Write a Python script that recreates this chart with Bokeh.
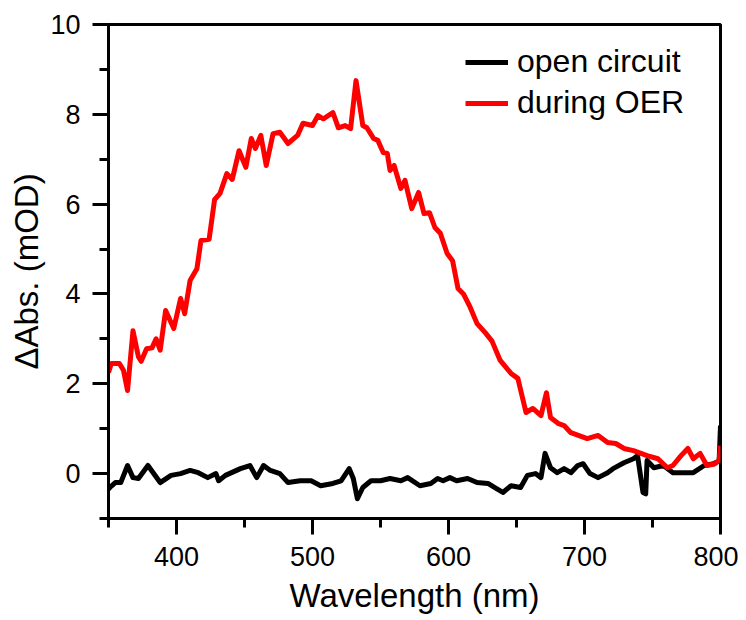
from bokeh.plotting import figure
from bokeh.models import FixedTicker, Legend, LegendItem, Range1d
from bokeh.embed import file_html
from bokeh.resources import INLINE

# ---- data ----
oer_wl = [350, 352, 358, 361, 364, 368, 372, 374, 378, 382, 385, 388, 392, 398, 403, 406,
          410, 415, 418, 424, 428, 432, 437, 441, 446, 451, 455, 458, 462, 466, 471, 476,
          482, 489, 493, 500, 504, 508, 515, 519, 524, 528, 532, 537, 540, 545, 548, 552,
          555, 557, 560, 565, 568, 573, 578, 582, 586, 590, 594, 599, 603, 607, 611, 616,
          621, 627, 632, 638, 646, 651, 657, 662, 668, 672, 675, 681, 685, 690, 702, 710,
          717, 723, 729, 736, 746, 754, 761, 765, 771, 776, 780, 785, 790, 796, 799, 800]
oer_abs = [2.25, 2.45, 2.45, 2.30, 1.85, 3.18, 2.60, 2.50, 2.78, 2.80, 3.00, 2.75, 3.63, 3.23, 3.90, 3.56,
           4.30, 4.56, 5.19, 5.22, 6.10, 6.24, 6.68, 6.55, 7.19, 6.82, 7.46, 7.24, 7.53, 6.86, 7.57, 7.60,
           7.35, 7.53, 7.80, 7.75, 7.97, 7.90, 8.04, 7.70, 7.75, 7.68, 8.75, 7.75, 7.70, 7.46, 7.42, 7.15,
           7.13, 6.75, 6.86, 6.35, 6.53, 5.90, 6.26, 5.79, 5.81, 5.48, 5.35, 4.90, 4.74, 4.12, 4.00, 3.70,
           3.34, 3.14, 2.95, 2.52, 2.23, 2.12, 1.36, 1.45, 1.29, 1.80, 1.25, 1.11, 1.07, 0.91, 0.78, 0.85,
           0.69, 0.67, 0.56, 0.51, 0.40, 0.33, 0.13, 0.18, 0.40, 0.56, 0.33, 0.45, 0.18, 0.22, 0.30, 0.62]

oc_wl = [350, 351, 355, 359, 364, 368, 372, 379, 388, 396, 403, 410, 416, 423, 429, 431,
         436, 447, 454, 459, 464, 469, 476, 482, 491, 499, 506, 515, 521, 527, 530, 533,
         537, 543, 550, 557, 565, 570, 579, 587, 592, 596, 601, 606, 614, 621, 629, 635,
         640, 646, 653, 658, 664, 668, 671, 675, 680, 685, 690, 695, 699, 704, 710, 717,
         721, 729, 736, 739, 743, 745, 746, 751, 758, 765, 773, 780, 788, 795, 799, 800]
oc_abs = [-0.35, -0.31, -0.20, -0.20, 0.18, -0.09, -0.11, 0.18, -0.20, -0.04, 0.00, 0.07, 0.02, -0.09, 0.00, -0.16,
          -0.04, 0.11, 0.18, -0.09, 0.18, 0.07, 0.00, -0.20, -0.16, -0.16, -0.27, -0.22, -0.16, 0.11, -0.11, -0.56,
          -0.31, -0.16, -0.16, -0.11, -0.16, -0.09, -0.27, -0.22, -0.11, -0.16, -0.09, -0.16, -0.11, -0.20, -0.22, -0.33,
          -0.42, -0.27, -0.31, -0.04, 0.00, -0.09, 0.45, 0.13, 0.02, 0.11, 0.02, 0.18, 0.22, 0.00, -0.09, 0.02,
          0.11, 0.24, 0.33, 0.40, -0.42, -0.45, 0.29, 0.13, 0.18, 0.02, 0.02, 0.02, 0.18, 0.22, 0.29, 1.07]

series_labels = ["open circuit", "during OER"]
x_major = [400, 500, 600, 700, 800]
x_minor = [350, 450, 550, 650, 750]
y_major = [0, 2, 4, 6, 8, 10]
y_minor = [-1, 1, 3, 5, 7, 9]

FONT = "Liberation Sans"

p = figure(width=738, height=620, output_backend="svg", toolbar_location=None,
           x_range=Range1d(350, 800), y_range=Range1d(-1, 10),
           min_border_left=108, min_border_right=18, min_border_top=24, min_border_bottom=102)
p.xgrid.visible = False
p.ygrid.visible = False
p.outline_line_color = "black"
p.outline_line_width = 3
p.outline_line_alpha = 1.0

r_oc = p.line(oc_wl, oc_abs, line_color="black", line_width=5, line_join="round")
r_oer = p.line(oer_wl, oer_abs, line_color="#ff0000", line_width=5, line_join="round")

for ax, maj, mnr in ((p.xaxis[0], x_major, x_minor), (p.yaxis[0], y_major, y_minor)):
    ax.ticker = FixedTicker(ticks=maj, minor_ticks=mnr)
    ax.axis_line_width = 3
    ax.major_tick_line_width = 3
    ax.minor_tick_line_width = 3
    ax.major_tick_out = 16
    ax.major_tick_in = 0
    ax.minor_tick_out = 9
    ax.minor_tick_in = 0
    ax.major_label_text_font = FONT
    ax.major_label_text_font_size = "27px"
    ax.major_label_text_color = "black"
    ax.axis_label_text_font = FONT
    ax.axis_label_text_font_size = "33px"
    ax.axis_label_text_font_style = "normal"
    ax.axis_label_text_color = "black"

p.xaxis[0].axis_label = "Wavelength (nm)"
p.xaxis[0].major_label_standoff = 12
p.xaxis[0].axis_label_standoff = 8
p.yaxis[0].axis_label = "ΔAbs. (mOD)"
p.yaxis[0].major_label_standoff = 12
p.yaxis[0].axis_label_standoff = 2

legend = Legend(items=[LegendItem(label=series_labels[0], renderers=[r_oc]),
                       LegendItem(label=series_labels[1], renderers=[r_oer])],
                location=(357, 397), padding=0, margin=0, spacing=4,
                glyph_width=43, label_standoff=9,
                label_text_font=FONT, label_text_font_size="32px",
                label_text_color="black",
                border_line_color=None, background_fill_alpha=0)
p.add_layout(legend)

open("out.html", "w").write(file_html(p, INLINE))
